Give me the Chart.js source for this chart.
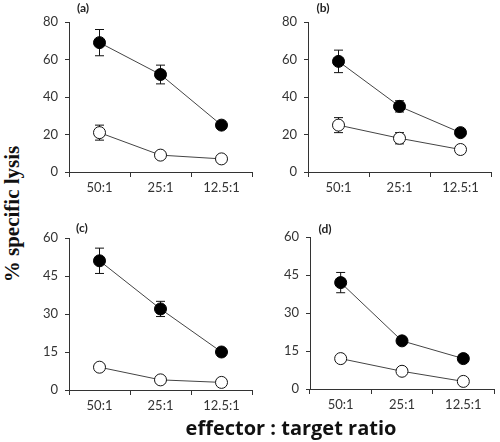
<!DOCTYPE html>
<html>
<head>
<meta charset="utf-8">
<script src="https://cdn.jsdelivr.net/npm/chart.js@4.4.0/dist/chart.umd.min.js"></script>
<style>
  body { margin: 0; background: #fff; }
  #wrap { position: relative; width: 500px; height: 442px; overflow: hidden; }
  #wrap canvas { position: absolute; }
  #ytitle {
    position: absolute; left: 12px; top: 214px;
    transform: translate(-50%, -50%) rotate(-90deg);
    font: bold 21px "Liberation Serif", "DejaVu Serif", serif;
    white-space: nowrap; color: #111;
  }
  #xtitle {
    position: absolute; left: 291px; top: 427px;
    transform: translate(-50%, -50%);
    font: bold 20px "Open Sans", Lato, sans-serif;
    white-space: nowrap; color: #111;
  }
</style>
</head>
<body>
<div id="wrap">
  <canvas id="ca"></canvas>
  <canvas id="cb"></canvas>
  <canvas id="cc"></canvas>
  <canvas id="cd"></canvas>
  <div id="ytitle">% specific lysis</div>
  <div id="xtitle">effector : target ratio</div>
</div>
<script>
// Data
const ratios = ['50:1', '25:1', '12.5:1'];

const aFilled = [69, 52, 25];
const aFilledErr = [7, 5, 2];
const aOpen = [21, 9, 7];
const aOpenErr = [4, 1, 1];

const bFilled = [59, 35, 21];
const bFilledErr = [6, 3, 2];
const bOpen = [25, 18, 12];
const bOpenErr = [4, 3, 1];

const cFilled = [51, 32, 15];
const cFilledErr = [5, 3, 1];
const cOpen = [9, 4, 3];
const cOpenErr = [1, 1, 1];

const dFilled = [42, 19, 12];
const dFilledErr = [4, 1, 1];
const dOpen = [12, 7, 3];
const dOpenErr = [1, 1, 1];

const ticksAB = [0, 20, 40, 60, 80];
const ticksCD = [0, 15, 30, 45, 60];

const tickFont = { family: 'Lato, "Open Sans", sans-serif', size: 13 };

// error bars drawn under the markers
const errorBars = {
  id: 'errorBars',
  beforeDatasetsDraw(chart) {
    const ctx = chart.ctx;
    const ys = chart.scales.y;
    ctx.save();
    ctx.strokeStyle = '#111';
    ctx.lineWidth = 1;
    chart.data.datasets.forEach((ds, i) => {
      const meta = chart.getDatasetMeta(i);
      meta.data.forEach((pt, j) => {
        const e = ds.err[j];
        if (!e) return;
        const top = ys.getPixelForValue(ds.data[j] + e);
        const bot = ys.getPixelForValue(ds.data[j] - e);
        ctx.beginPath();
        ctx.moveTo(pt.x, top); ctx.lineTo(pt.x, bot);
        ctx.moveTo(pt.x - 4.5, top); ctx.lineTo(pt.x + 4.5, top);
        ctx.moveTo(pt.x - 4.5, bot); ctx.lineTo(pt.x + 4.5, bot);
        ctx.stroke();
      });
    });
    ctx.restore();
  }
};

// little (a)/(b) tag above the plot
const panelTag = {
  id: 'panelTag',
  afterDraw(chart, args, opts) {
    const ctx = chart.ctx;
    ctx.save();
    ctx.font = 'bold 12px Lato, "Open Sans", sans-serif';
    ctx.fillStyle = '#222';
    ctx.textAlign = 'center';
    ctx.textBaseline = 'middle';
    ctx.fillText(opts.text, chart.chartArea.left + opts.dx, chart.chartArea.top + opts.dy);
    ctx.restore();
  }
};

function makePanel(id, box, filled, filledErr, open, openErr, yTicks, tag) {
  const cv = document.getElementById(id);
  const left = box.axisX - 40;
  const top = box.top - 22;
  const w = box.right - left + 3;
  const h = box.bottom - top + 28;
  cv.style.left = left + 'px';
  cv.style.top = top + 'px';
  cv.style.width = w + 'px';
  cv.style.height = h + 'px';
  cv.width = w; cv.height = h;

  new Chart(cv, {
    type: 'line',
    data: {
      labels: ratios,
      datasets: [
        {
          data: filled, err: filledErr,
          borderColor: '#444', borderWidth: 1,
          pointRadius: 6, pointBackgroundColor: '#000', pointBorderColor: '#000', pointBorderWidth: 1
        },
        {
          data: open, err: openErr,
          borderColor: '#444', borderWidth: 1,
          pointRadius: 6, pointBackgroundColor: '#fff', pointBorderColor: '#111', pointBorderWidth: 1
        }
      ]
    },
    options: {
      responsive: false,
      animation: false,
      devicePixelRatio: 1,
      layout: { padding: { top: 22, right: 3, left: 0, bottom: 0 } },
      plugins: {
        legend: { display: false },
        tooltip: { enabled: false },
        panelTag: tag
      },
      scales: {
        x: {
          offset: true,
          grid: { offset: true, drawOnChartArea: false, tickLength: 5, color: '#333' },
          border: { color: '#333' },
          ticks: { font: tickFont, color: '#333', padding: 3, maxRotation: 0 },
          afterFit: s => { s.height = 28; }
        },
        y: {
          min: yTicks[0], max: yTicks[yTicks.length - 1],
          afterBuildTicks: s => { s.ticks = yTicks.map(v => ({ value: v })); },
          grid: { drawOnChartArea: false, tickLength: 4, color: '#333' },
          border: { color: '#333' },
          ticks: { font: tickFont, color: '#333', padding: 7 },
          afterFit: s => { s.width = 40; }
        }
      }
    },
    plugins: [errorBars, panelTag]
  });
}

makePanel('ca', { axisX: 69, right: 256, top: 22, bottom: 172 }, aFilled, aFilledErr, aOpen, aOpenErr, ticksAB, { text: '(a)', dx: 14, dy: -14 });
makePanel('cb', { axisX: 308, right: 495, top: 22, bottom: 172 }, bFilled, bFilledErr, bOpen, bOpenErr, ticksAB, { text: '(b)', dx: 15, dy: -14 });
makePanel('cc', { axisX: 69, right: 256, top: 238, bottom: 390 }, cFilled, cFilledErr, cOpen, cOpenErr, ticksCD, { text: '(c)', dx: 13, dy: -10 });
makePanel('cd', { axisX: 310, right: 498, top: 237, bottom: 389 }, dFilled, dFilledErr, dOpen, dOpenErr, ticksCD, { text: '(d)', dx: 15, dy: -8 });
</script>
</body>
</html>
